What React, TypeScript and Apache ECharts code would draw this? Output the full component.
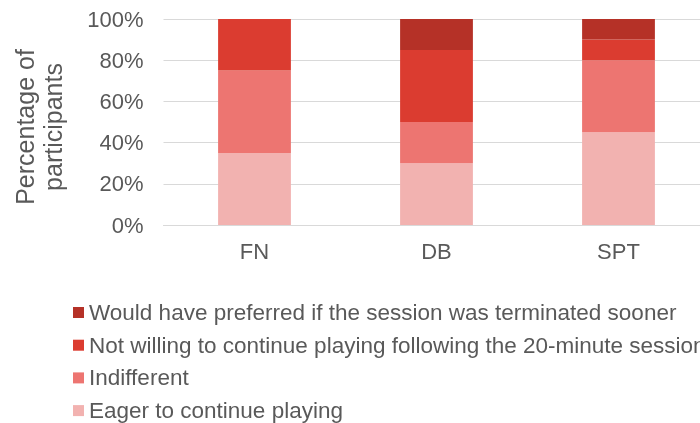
import React, { useEffect, useRef } from "react";
import * as echarts from "echarts";

const categories = ["FN", "DB", "SPT"];
const eager = [35, 30, 45];
const indifferent = [40, 20, 35];
const notWilling = [25, 35, 10];
const wouldPrefer = [0, 15, 10];
const seriesNames = [
  "Eager to continue playing",
  "Indifferent",
  "Not willing to continue playing following the 20-minute session",
  "Would have preferred if the session was terminated sooner",
];
const yTicks = [0, 20, 40, 60, 80, 100];
const yTitle = "Percentage of\nparticipants";

export default function App() {
  const ref = useRef<HTMLDivElement>(null);
  useEffect(() => {
    const chart = echarts.init(ref.current!, null, { renderer: "svg" });
    const font = "'Liberation Sans', Arial, sans-serif";
    const colors = ["#F2B2B0", "#ED7571", "#DB3C30", "#B53127"];
    const data = [eager, indifferent, notWilling, wouldPrefer];
    const legendOrder = [...seriesNames].reverse();
    chart.setOption({
      animation: false,
      color: colors,
      textStyle: { fontFamily: font },
      grid: {
        left: 163.5,
        right: -9.5,
        top: 19,
        bottom: 198,
        containLabel: false,
        outerBoundsMode: "none",
      },
      graphic: [
        {
          type: "text",
          x: 39,
          y: 127,
          rotation: Math.PI / 2,
          style: {
            text: yTitle,
            fontSize: 25,
            lineHeight: 28,
            fontFamily: font,
            fill: "#595959",
            align: "center",
            verticalAlign: "middle",
          },
        },
      ],
      legend: legendOrder.map((name, i) => ({
        orient: "horizontal",
        left: 73,
        top: 301 + i * 32.7,
        padding: 0,
        itemWidth: 11,
        itemHeight: 11,
        icon: "rect",
        data: [name],
        textStyle: { fontSize: 22.5, color: "#595959", lineHeight: 22, fontFamily: font },
      })),
      xAxis: {
        type: "category",
        data: categories,
        axisLine: { lineStyle: { color: "#D9D9D9", width: 1 } },
        axisTick: { show: false },
        axisLabel: { fontSize: 22, color: "#595959", margin: 15, fontFamily: font },
      },
      yAxis: {
        type: "value",
        min: yTicks[0],
        max: yTicks[yTicks.length - 1],
        interval: 20,
        axisLabel: { formatter: "{value}%", fontSize: 22, color: "#595959", margin: 20, fontFamily: font },
        splitLine: { lineStyle: { color: "#D9D9D9", width: 1 } },
        axisLine: { show: false },
        axisTick: { show: false },
      },
      series: seriesNames.map((name, i) => ({
        name,
        type: "bar",
        stack: "total",
        barWidth: "40%",
        data: data[i],
        itemStyle: { color: colors[i] },
      })),
    });
    return () => chart.dispose();
  }, []);
  return (
    <div
      ref={ref}
      style={{ position: "fixed", left: 0, top: 0, width: 700, height: 423, overflow: "hidden" }}
    />
  );
}
